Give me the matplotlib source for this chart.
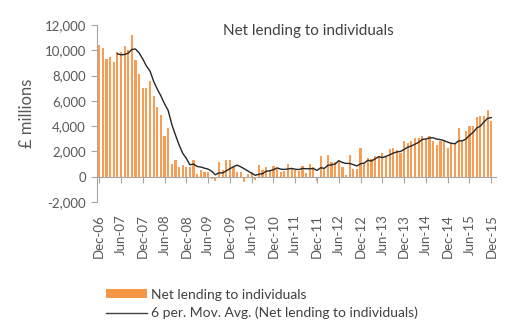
import matplotlib
matplotlib.use("Agg")
import matplotlib.pyplot as plt
import numpy as np
from matplotlib.patches import Patch
from matplotlib.lines import Line2D

plt.rcParams['font.family'] = ['Lato', 'DejaVu Sans']

# Monthly net lending to individuals (£ millions), Dec-06 .. Dec-15
net_lending = [
    10400, 10200, 9350, 9450, 9050, 9900, 9900, 10350, 10000, 11200, 9250, 8100,
    7000, 7000, 7600, 6350, 5500, 4900, 3250, 3850, 1000, 1350, 800, 900,
    800, 800, 1350, 200, 550, 350, 350, -200, -350, 1150, 500, 1350,
    1350, 750, 400, 350, -450, 250, 350, -250, 950, 550, 800, 420,
    870, 600, 340, 420, 1030, 680, 500, 420, 870, 290, 1000, 800,
    -370, 1650, 600, 1750, 1200, 1200, 1200, 800, 160, 1750, 600, 600,
    2250, 1100, 1500, 1400, 1600, 1650, 1850, 1650, 2200, 2250, 2150, 1900,
    2800, 2700, 2800, 3100, 3050, 3250, 3000, 3200, 2850, 2500, 2800, 2800,
    2250, 2650, 2650, 3850, 2850, 3600, 4050, 4050, 4700, 4800, 4800, 5300,
    4400,
]
tick_labels = ["Dec-06", "Jun-07", "Dec-07", "Jun-08", "Dec-08", "Jun-09", "Dec-09",
               "Jun-10", "Dec-10", "Jun-11", "Dec-11", "Jun-12", "Dec-12", "Jun-13",
               "Dec-13", "Jun-14", "Dec-14", "Jun-15", "Dec-15"]
y_ticks = [-2000, 0, 2000, 4000, 6000, 8000, 10000, 12000]
ma_period = 6

vals = np.array(net_lending, dtype=float)
x = np.arange(len(vals))
ma = np.convolve(vals, np.ones(ma_period) / ma_period, mode='valid')
x_ma = x[ma_period - 1:]

fig = plt.figure(figsize=(5.2, 3.31), dpi=100)
ax = fig.add_axes([97/520, 1 - 202/331, (496 - 97)/520, (202 - 25)/331])

axis_gray = '#A6A6A6'
for s in ['top', 'right']:
    ax.spines[s].set_visible(False)
ax.spines['left'].set_color(axis_gray)
ax.spines['bottom'].set_color(axis_gray)
ax.spines['bottom'].set_position(('data', 0))

bar_color = '#F79646'
ax.bar(x, vals, width=0.6, color='#F89D55', linewidth=0)
ax.plot(x_ma, ma, color='#262626', linewidth=1.0)

ax.set_xlim(-0.6, 109.3)
ax.set_ylim(-2000, 12000)
ax.set_yticks(y_ticks)
ax.set_yticklabels([f"{v:,}" for v in y_ticks], fontsize=9.5, color='#595959')

ax.set_xticks(np.arange(0, len(vals), 6))
ax.set_xticklabels(tick_labels, rotation=90, fontsize=9.5, color='#595959',
                   va='top', ha='center')

ax.tick_params(axis='y', direction='out', length=4, color=axis_gray, pad=4)
ax.tick_params(axis='x', direction='out', length=4, color=axis_gray, pad=23)

ax.set_ylabel('£ millions', fontsize=12, color='#595959', labelpad=7)

ax.text(0.53, 0.965, 'Net lending to individuals', transform=ax.transAxes,
        ha='center', va='center', fontsize=11, color='#404040')

handles = [Patch(facecolor=bar_color, edgecolor='none'),
           Line2D([0], [0], color='#404040', linewidth=1.0)]
labels = ['Net lending to individuals',
          '6 per. Mov. Avg. (Net lending to individuals)']
fig.legend(handles, labels, loc='upper left', bbox_to_anchor=(0.203, 0.128),
           frameon=False, fontsize=10, handlelength=3.0, handleheight=0.6,
           handletextpad=0.3, labelspacing=0.45, borderpad=0, borderaxespad=0,
           labelcolor='#404040')

fig.savefig('out.png', dpi=100)
